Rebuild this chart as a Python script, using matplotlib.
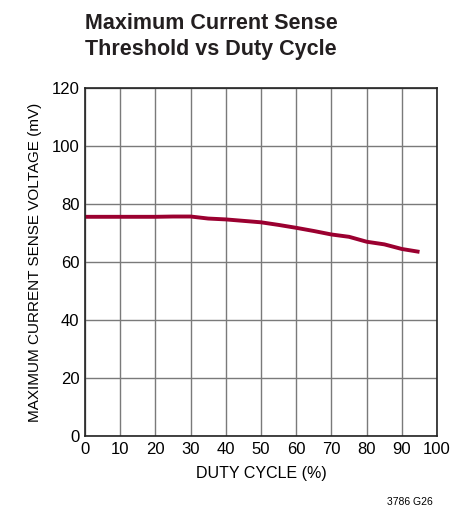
import matplotlib
matplotlib.use('Agg')
import matplotlib.pyplot as plt

duty_cycle = [0, 5, 10, 15, 20, 25, 30, 35, 40, 45, 50, 55, 60, 65, 70, 75, 80, 85, 90, 95]
sense_mv = [75.6, 75.6, 75.6, 75.6, 75.6, 75.7, 75.7, 75.0, 74.7, 74.2, 73.7, 72.8, 71.8, 70.7,
            69.5, 68.7, 67.0, 66.1, 64.5, 63.5]

x_ticks = list(range(0, 101, 10))
y_ticks = list(range(0, 121, 20))

plt.rcParams['font.family'] = ['Liberation Sans Narrow', 'Liberation Sans', 'DejaVu Sans']

fig = plt.figure(figsize=(4.68, 5.12), dpi=100)
ax = fig.add_axes([0.1816, 0.1484, 0.7524, 0.6796])

ax.plot(duty_cycle, sense_mv, color='#9b0030', linewidth=2.8, solid_capstyle='butt')

ax.set_xlim(0, 100)
ax.set_ylim(0, 120)
ax.set_xticks(x_ticks)
ax.set_yticks(y_ticks)
ax.grid(True, color='#7a7a7a', linewidth=1.0)
ax.tick_params(length=0, labelsize=12, pad=4)
for s in ax.spines.values():
    s.set_color('#222222')
    s.set_linewidth(1.2)

ax.set_xlabel('DUTY CYCLE (%)', fontsize=11.5, labelpad=7)
ax.set_ylabel('MAXIMUM CURRENT SENSE VOLTAGE (mV)', fontsize=11, labelpad=7)

fig.text(0.1816, 0.975, 'Maximum Current Sense\nThreshold vs Duty Cycle', fontsize=15.5,
         fontweight='bold', va='top', ha='left', color='#231f20', linespacing=1.3)
fig.text(0.925, 0.01, '3786 G26', fontsize=7.5, ha='right', va='bottom')

fig.savefig('out.png', dpi=100, facecolor='white')
